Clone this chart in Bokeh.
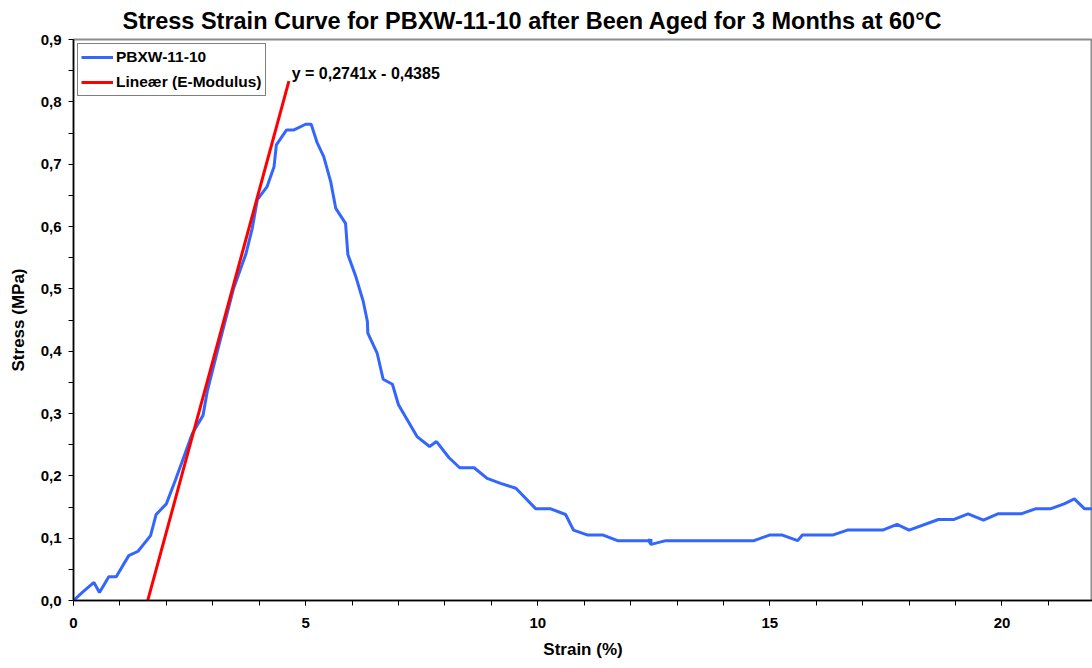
from bokeh.plotting import figure
from bokeh.models import FixedTicker, CustomJSTickFormatter, Label, Range1d
from bokeh.embed import file_html
from bokeh.resources import INLINE

# Measured stress-strain curve (strain %, stress MPa)
strain = [0.0, 0.19, 0.44, 0.56, 0.76, 0.92, 1.19, 1.39, 1.66, 1.78, 2.0, 2.2, 2.56, 2.79,
          2.88, 3.1, 3.45, 3.71, 3.85, 3.96, 4.17, 4.32, 4.37, 4.59, 4.75, 5.0, 5.12, 5.25,
          5.39, 5.54, 5.65, 5.86, 5.91, 6.08, 6.24, 6.33, 6.34, 6.54, 6.67, 6.87, 7.0, 7.4,
          7.67, 7.82, 8.09, 8.32, 8.63, 8.91, 9.2, 9.53, 9.96, 10.28, 10.6, 10.77, 11.08,
          11.41, 11.72, 12.47, 12.38, 12.44, 12.76, 14.66, 14.99, 15.27, 15.6, 15.7, 16.35,
          16.67, 17.43, 17.74, 18.0, 18.63, 18.97, 19.27, 19.6, 19.91, 20.41, 20.72, 21.04,
          21.34, 21.56, 21.78, 22.2]
stress = [0.0, 0.013, 0.029, 0.013, 0.038, 0.038, 0.072, 0.079, 0.104, 0.138, 0.155, 0.194,
          0.268, 0.297, 0.335, 0.40, 0.501, 0.555, 0.597, 0.643, 0.664, 0.696, 0.731, 0.755,
          0.755, 0.764, 0.764, 0.734, 0.712, 0.672, 0.629, 0.605, 0.555, 0.52, 0.48, 0.448,
          0.429, 0.397, 0.355, 0.347, 0.314, 0.263, 0.247, 0.255, 0.229, 0.213, 0.213, 0.196,
          0.188, 0.180, 0.147, 0.147, 0.138, 0.113, 0.105, 0.105, 0.096, 0.096, 0.097, 0.09,
          0.096, 0.096, 0.105, 0.105, 0.096, 0.105, 0.105, 0.113, 0.113, 0.122, 0.113, 0.130,
          0.130, 0.139, 0.129, 0.139, 0.139, 0.147, 0.147, 0.155, 0.163, 0.147, 0.147]

# Linear fit (E-Modulus)
fit_slope = 0.2741
fit_intercept = -0.4385
fit_x = [1.6, 4.64]
fit_y = [fit_slope * v + fit_intercept for v in fit_x]

y_ticks = [0.0, 0.1, 0.2, 0.3, 0.4, 0.5, 0.6, 0.7, 0.8, 0.9]
y_minor = [0.05, 0.15, 0.25, 0.35, 0.45, 0.55, 0.65, 0.75, 0.85]
x_ticks = [0, 5, 10, 15, 20]
x_minor = list(range(0, 23))

FONT = "Liberation Sans"

p = figure(width=1092, height=668, output_backend="svg", toolbar_location=None,
           x_range=Range1d(0, 21.95), y_range=Range1d(0, 0.9),
           min_border_left=73, min_border_right=0, min_border_top=38, min_border_bottom=68)
p.xgrid.visible = False
p.ygrid.visible = False
p.outline_line_color = "#8c8c8c"
p.outline_line_width = 2
p.background_fill_color = "white"

p.title.text = "Stress Strain Curve for PBXW-11-10 after Been Aged for 3 Months at 60°C"
p.title.text_font = FONT
p.title.text_font_style = "bold"
p.title.text_font_size = "23.5px"
p.title.text_color = "black"
p.title.align = "left"
p.title.offset = 49
p.title.standoff = 11

p.line(strain, stress, line_color="#3366FF", line_width=3, legend_label="PBXW-11-10")
p.line(fit_x, fit_y, line_color="#FF0000", line_width=3, legend_label="Lineær (E-Modulus)")

for ax in (p.xaxis[0], p.yaxis[0]):
    ax.axis_line_color = "black"
    ax.axis_line_width = 1.5
    ax.major_tick_line_color = "black"
    ax.minor_tick_line_color = "black"
    ax.major_tick_in = 0
    ax.minor_tick_in = 0
    ax.major_tick_out = 5
    ax.minor_tick_out = 5
    ax.major_label_text_font = FONT
    ax.major_label_text_font_style = "bold"
    ax.major_label_text_font_size = "15px"
    ax.major_label_text_color = "black"
    ax.axis_label_text_font = FONT
    ax.axis_label_text_font_style = "bold"
    ax.axis_label_text_font_size = "17px"
    ax.axis_label_text_color = "black"

p.xaxis.ticker = FixedTicker(ticks=x_ticks, minor_ticks=x_minor)
p.yaxis.ticker = FixedTicker(ticks=y_ticks, minor_ticks=y_minor)
p.yaxis.formatter = CustomJSTickFormatter(code="return tick.toFixed(1).replace('.', ',');")
p.xaxis.axis_label = "Strain (%)"
p.yaxis.axis_label = "Stress (MPa)"
p.xaxis.major_label_standoff = 12
p.xaxis.axis_label_standoff = 9
p.yaxis.major_label_standoff = 7
p.yaxis.axis_label_standoff = 10

p.legend.location = "top_left"
p.legend.margin = 4
p.legend.padding = 3
p.legend.spacing = 5
p.legend.border_line_color = "black"
p.legend.border_line_width = 1
p.legend.label_text_font = FONT
p.legend.label_text_font_style = "bold"
p.legend.label_text_font_size = "15.5px"
p.legend.label_text_color = "black"
p.legend.glyph_width = 32
p.legend.glyph_height = 20
p.legend.label_height = 20
p.legend.label_standoff = 3
p.legend.background_fill_alpha = 1.0

p.add_layout(Label(x=4.70, y=0.845, text="y = 0,2741x - 0,4385", text_font=FONT,
                   text_font_style="bold", text_font_size="16px", text_baseline="middle",
                   text_color="black"))

open("out.html", "w").write(file_html(p, INLINE))
